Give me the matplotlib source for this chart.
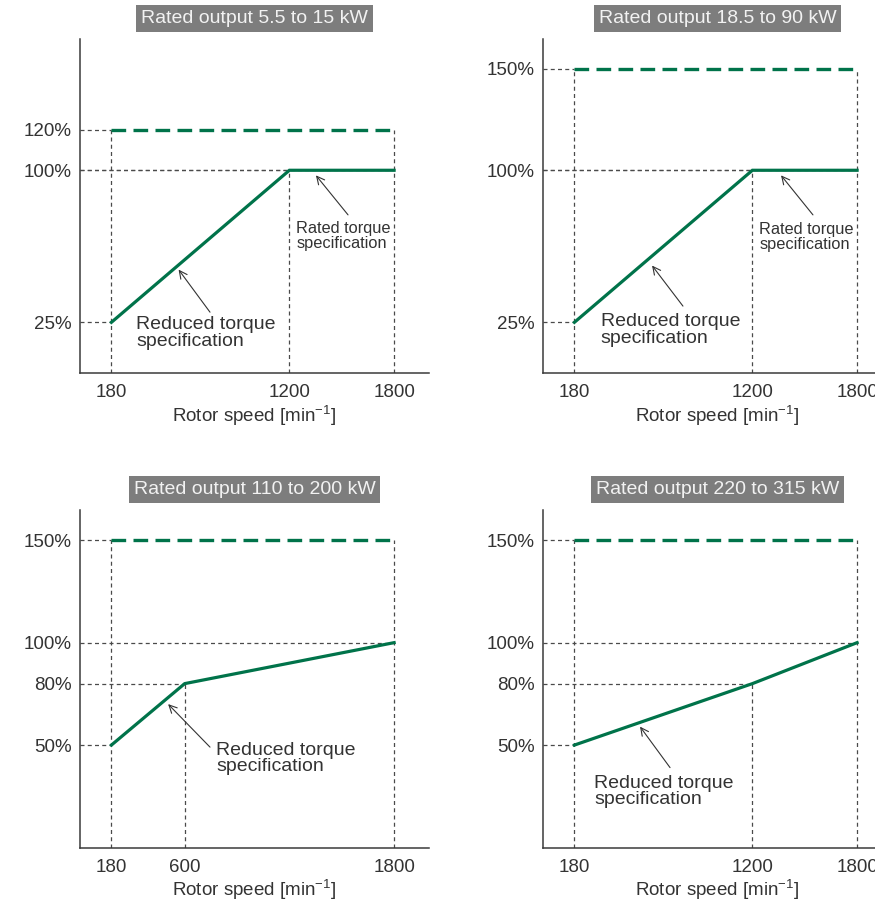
import matplotlib
matplotlib.use("Agg")
import matplotlib.pyplot as plt

plt.rcParams['font.family'] = ['Liberation Sans', 'DejaVu Sans']
plt.rcParams['mathtext.fontset'] = 'custom'
plt.rcParams['mathtext.rm'] = 'Liberation Sans'

### data
titles = ['Rated output 5.5 to 15 kW', 'Rated output 18.5 to 90 kW',
          'Rated output 110 to 200 kW', 'Rated output 220 to 315 kW']

# rotor speed knots [min-1] and torque [%] of the reduced torque curve
speed_1 = [180, 1200, 1800]
torque_1 = [25, 100, 100]
speed_2 = [180, 1200, 1800]
torque_2 = [25, 100, 100]
speed_3 = [180, 600, 1800]
torque_3 = [50, 80, 100]
speed_4 = [180, 1200, 1800]
torque_4 = [50, 80, 100]

# short-time overload level [%]
overload = [120, 150, 150, 150]

yticks_1 = [25, 100, 120]
yticks_2 = [25, 100, 150]
yticks_3 = [50, 80, 100, 150]
yticks_4 = [50, 80, 100, 150]

speeds = [speed_1, speed_2, speed_3, speed_4]
torques = [torque_1, torque_2, torque_3, torque_4]
yticks = [yticks_1, yticks_2, yticks_3, yticks_4]

### style
green = '#00734a'
guide = '#4a4a4a'
txt = '#333333'
W, H = 875, 901

# axes boxes in pixels: left, top of y axis, bottom
boxes = [(80, 38.5, 373), (543, 38.5, 373), (80, 509.5, 847.5), (543, 509.5, 847.5)]
xmax, ymax = 2000, 165
axw = 349

# annotations: (text xy, arrow tip, arrow tail)
reduced = [((321, 28), (565, 51), (745, 30)),
           ((330, 29.5), (625, 53), (802, 33)),
           ((779, 51.5), (505, 70), (745, 49)),
           ((292, 35.4), (556, 59), (728, 39))]
rated = [((1240, 75), (1352, 97.5), (1536, 78)),
         ((1240, 74.5), (1364, 97.5), (1547, 78)),
         None, None]

fig = plt.figure(figsize=(W / 100, H / 100), dpi=100)

for i in range(4):
    left, top, bottom = boxes[i]
    ax = fig.add_axes([left / W, (H - bottom) / H, axw / W, (bottom - top) / H])
    ax.set_xlim(0, xmax)
    ax.set_ylim(0, ymax)
    x, y = speeds[i], torques[i]
    ov = overload[i]

    # dashed guide lines
    gkw = dict(color=guide, lw=0.9, dashes=(3.2, 2.6), zorder=1)
    for xk, yk in zip(x, y):
        ax.plot([0, xk], [yk, yk], **gkw)
        if xk == x[0] or xk == x[-1]:
            ax.plot([xk, xk], [0, ov], **gkw)
        else:
            ax.plot([xk, xk], [0, yk], **gkw)
    ax.plot([0, x[0]], [ov, ov], **gkw)

    # overload and reduced torque curves
    ax.plot([x[0], x[-1]], [ov, ov], color=green, lw=2.4, dashes=(4.4, 2.2),
            solid_capstyle='butt', zorder=3)
    ax.plot(x, y, color=green, lw=2.3, solid_joinstyle='miter', zorder=3)

    for sp in ['top', 'right']:
        ax.spines[sp].set_visible(False)
    for sp in ['left', 'bottom']:
        ax.spines[sp].set_color('#3a3a3a')
        ax.spines[sp].set_linewidth(1.1)

    ax.set_xticks(x)
    ax.set_xticklabels([str(v) for v in x])
    ax.set_yticks(yticks[i])
    ax.set_yticklabels([str(v) + '%' for v in yticks[i]])
    ax.tick_params(length=0, labelsize=13.5, colors=txt)
    ax.tick_params(axis='x', pad=8)
    ax.tick_params(axis='y', pad=6)
    ax.set_xlabel(r'Rotor speed [min$^{\mathregular{-1}}$]', fontsize=13.5, color=txt, labelpad=1.5)

    ax.text(0.5, 1 + 20 / (bottom - top), titles[i], transform=ax.transAxes,
            ha='center', va='center', fontsize=14, color='#f2f2f2',
            bbox=dict(boxstyle='square,pad=0.26', fc='#7d7d7d', ec='none'))

    (tx, ty), tip, tail = reduced[i]
    ax.annotate('', xy=tip, xytext=tail,
                arrowprops=dict(arrowstyle='->', color='#333333', lw=0.8,
                                shrinkA=0, shrinkB=0, mutation_scale=14))
    ax.text(tx, ty, 'Reduced torque\nspecification', ha='left', va='top',
            fontsize=14, color=txt, linespacing=0.95)

    if rated[i] is not None:
        (tx, ty), tip, tail = rated[i]
        ax.annotate('', xy=tip, xytext=tail,
                    arrowprops=dict(arrowstyle='->', color='#333333', lw=0.8,
                                    shrinkA=0, shrinkB=0, mutation_scale=14))
        ax.text(tx, ty, 'Rated torque\nspecification', ha='left', va='top',
                fontsize=11.8, color=txt, linespacing=1.0)

fig.savefig('out.png', dpi=100)
